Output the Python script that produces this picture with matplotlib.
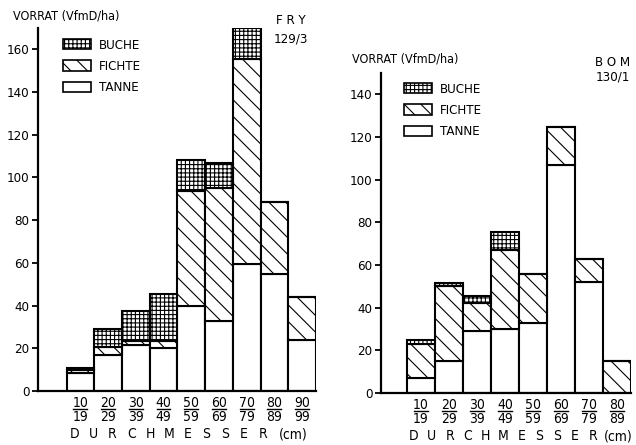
import matplotlib
matplotlib.use("Agg")
import matplotlib.pyplot as plt
import matplotlib.transforms as mtransforms
from matplotlib.patches import Patch
import numpy as np

plt.rcParams['font.family'] = ['DejaVu Sans']
plt.rcParams['font.stretch'] = 'condensed'
plt.rcParams['hatch.linewidth'] = 0.8

# Vorrat (VfmD/ha) je Durchmesserstufe, Bestand FRY 129/3
fry_lower = ["10", "20", "30", "40", "50", "60", "70", "80", "90"]
fry_upper = ["19", "29", "39", "49", "59", "69", "79", "89", "99"]
fry_tanne = [8.5, 17, 21.5, 20, 40, 33, 59.5, 55, 24]
fry_fichte = [1.5, 3.5, 2, 3.5, 53.5, 62, 96, 33.5, 20]
fry_buche = [1, 8.5, 14, 22, 14.5, 12, 14.5, 0, 0]

# Bestand BOM 130/1
bom_lower = ["10", "20", "30", "40", "50", "60", "70", "80"]
bom_upper = ["19", "29", "39", "49", "59", "69", "79", "89"]
bom_tanne = [7, 15, 29, 30, 33, 107, 52, 0]
bom_fichte = [16, 35, 13, 37, 23, 17.5, 11, 15]
bom_buche = [2, 1.5, 3.5, 8.5, 0, 0, 0, 0]

HATCH_FICHTE = '\\\\'
HATCH_BUCHE = '++++'
LW = 1.5


def draw_panel(ax, lower, upper, tanne, fichte, buche, ymax, yticks,
               x_left, legend_xy, letter_span, h_px):
    n = len(lower)
    x = np.arange(1, n + 1)
    tanne = np.array(tanne)
    fichte = np.array(fichte)
    buche = np.array(buche)

    style = dict(width=1.0, edgecolor='black', linewidth=LW)
    ax.bar(x, tanne, color='white', **style)
    ax.bar(x, fichte, bottom=tanne, color='white', hatch=HATCH_FICHTE, **style)
    ax.bar(x, buche, bottom=tanne + fichte, color='white', hatch=HATCH_BUCHE, **style)

    ax.set_xlim(x_left, n + 0.5)
    ax.set_ylim(0, ymax)
    ax.set_yticks(yticks)
    ax.set_xticks([])
    ax.tick_params(axis='y', direction='out', length=4, width=1.3,
                   labelsize=9.5, pad=2)
    for side in ('top', 'right'):
        ax.spines[side].set_visible(False)
    for side in ('left', 'bottom'):
        ax.spines[side].set_linewidth(1.6)

    # class labels written as fractions: lower bound over upper bound
    trans = mtransforms.blended_transform_factory(ax.transData, ax.transAxes)
    for xi, lo, up in zip(x, lower, upper):
        ax.text(xi, -12 / h_px, lo, transform=trans, ha='center', va='center',
                fontsize=10)
        ax.plot([xi - 0.25, xi + 0.25], [-18 / h_px] * 2, color='black',
                lw=1.0, transform=trans, clip_on=False)
        ax.text(xi, -26 / h_px, up, transform=trans, ha='center', va='center',
                fontsize=10)

    handles = [Patch(facecolor='white', edgecolor='black', hatch=HATCH_BUCHE, lw=1.2),
               Patch(facecolor='white', edgecolor='black', hatch=HATCH_FICHTE, lw=1.2),
               Patch(facecolor='white', edgecolor='black', lw=1.2)]
    ax.legend(handles, ["BUCHE", "FICHTE", "TANNE"], loc='upper left',
              bbox_to_anchor=legend_xy, frameon=False, fontsize=9.5,
              handlelength=2.1, handleheight=0.8, labelspacing=0.62,
              handletextpad=0.6, borderpad=0, borderaxespad=0)

    # spaced lettering along the axis
    word = "DURCHMESSER"
    x0, x1, xcm = letter_span
    for i, ch in enumerate(word):
        xi = x0 + (x1 - x0) * i / (len(word) - 1)
        ax.text(xi, -43 / h_px, ch, transform=ax.transAxes, ha='center',
                va='center', fontsize=10)
    ax.text(xcm, -43 / h_px, "(cm)", transform=ax.transAxes, ha='center',
            va='center', fontsize=10)


fig = plt.figure(figsize=(6.36, 4.45), dpi=100)

ax1 = fig.add_axes([38 / 636, 54 / 445, 278 / 636, 363 / 445])
draw_panel(ax1, fry_lower, fry_upper, fry_tanne, fry_fichte, fry_buche,
           170, range(0, 161, 20), -0.53, (0.09, 0.97), (0.133, 0.809, 0.917), 363)

ax2 = fig.add_axes([381 / 636, 52 / 445, 250 / 636, 320 / 445])
draw_panel(ax2, bom_lower, bom_upper, bom_tanne, bom_fichte, bom_buche,
           150, range(0, 141, 20), -0.43, (0.092, 0.969), (0.132, 0.848, 0.948), 320)

fig.text(13 / 636, 1 - 16 / 445, "VORRAT (VfmD/ha)", fontsize=9, va='center')
fig.text(352 / 636, 1 - 59 / 445, "VORRAT (VfmD/ha)", fontsize=9, va='center')
fig.text(291 / 636, 1 - 21 / 445, "F R Y", fontsize=9.5, ha='center', va='center')
fig.text(291 / 636, 1 - 39 / 445, "129/3", fontsize=9.5, ha='center', va='center')
fig.text(613 / 636, 1 - 62 / 445, "B O M", fontsize=9.5, ha='center', va='center')
fig.text(613 / 636, 1 - 77 / 445, "130/1", fontsize=9.5, ha='center', va='center')

fig.savefig("out.png", dpi=100)
